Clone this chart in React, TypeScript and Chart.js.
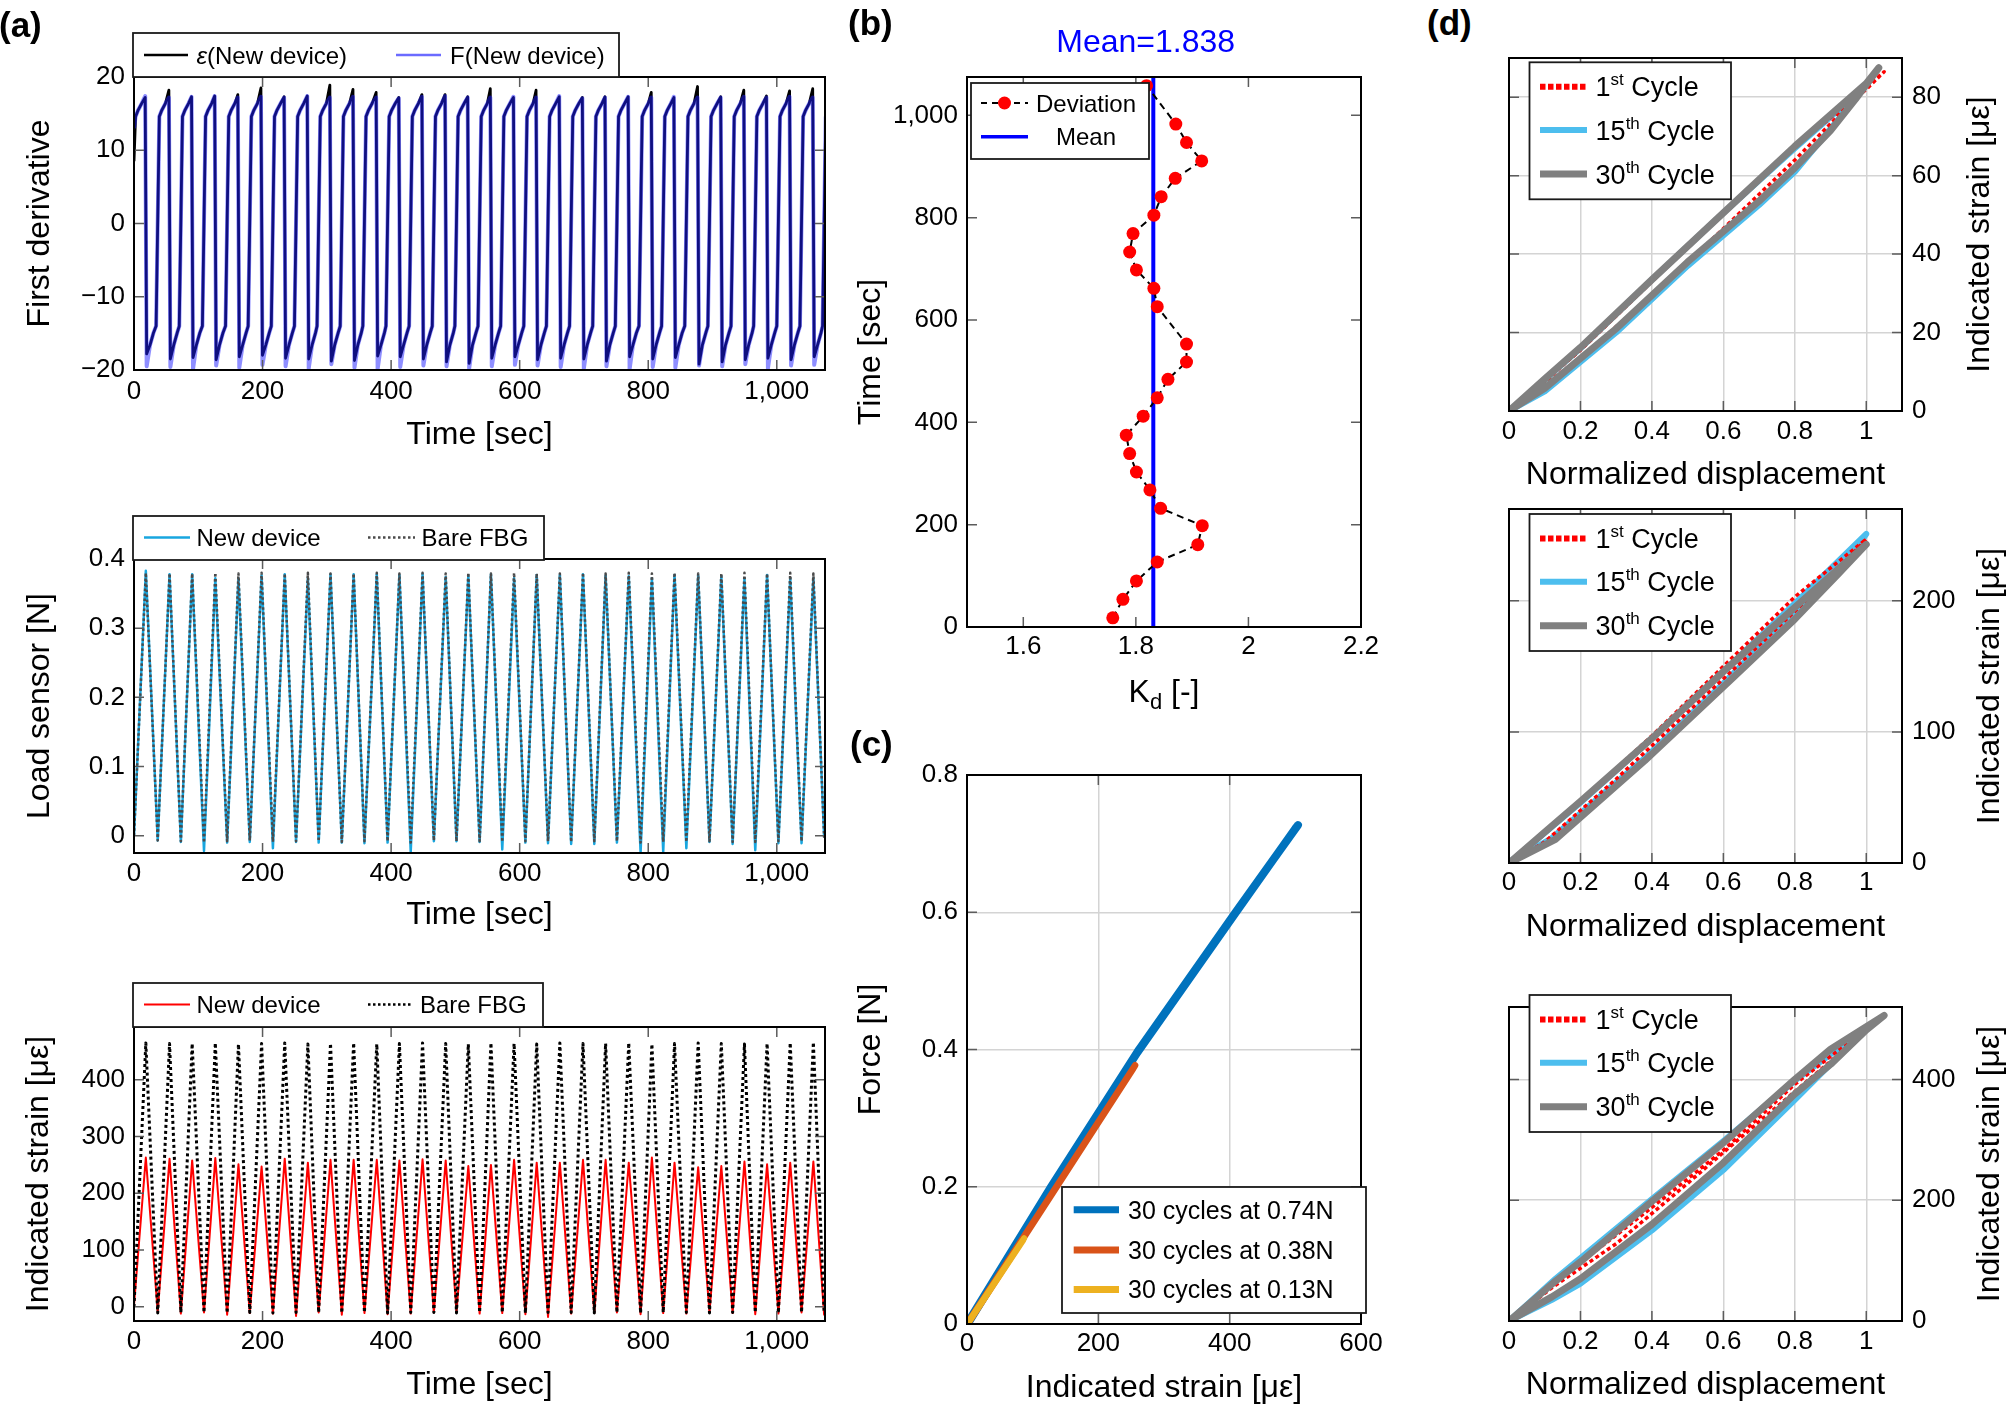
import React, { useEffect, useRef } from 'react';
import { Chart, registerables } from 'chart.js';

Chart.register(...registerables);

const FONT = '"Liberation Sans", Arial, Helvetica, sans-serif';

// ---------------- (a) time series ----------------
const timeTicks = [0, 200, 400, 600, 800, 1000];
const timeTickLabels = ['0', '200', '400', '600', '800', '1,000'];

const cyclePeakTimes = [18.4, 55.3, 90.5, 126.5, 162.5, 198.5, 234.5, 270.5, 305.7, 341.7, 377.7, 412.9, 448.9, 484.9, 520.1, 555.3, 591.3, 626.5, 662.5, 698.5, 733.7, 769.7, 805.7, 840.9, 877.7, 913.7, 949.7, 984.9, 1020.9, 1056.9];
const cycleValleyTimes = [36.9, 72.9, 108.9, 144.9, 180.1, 216.1, 252.1, 287.3, 323.3, 358.5, 394.5, 430.5, 466.5, 501.7, 537.7, 572.9, 608.9, 644.1, 680.1, 716.1, 751.3, 788.1, 823.3, 859.3, 895.3, 931.3, 966.5, 1002.5, 1038.5, 1073.7];

// first derivative: per-cycle extremes
const derivEpsPeak = [17.2, 18.2, 17.3, 17.4, 17.6, 18.5, 17.3, 17.4, 18.9, 18.3, 17.9, 17.2, 17.6, 17.6, 17.3, 18.4, 17.2, 18.2, 17.3, 17.2, 17.3, 17.3, 17.9, 17.2, 18.7, 17.3, 18.2, 17.4, 18.1, 18.4];
const derivEpsTrough = [-17.8, -18.5, -18.3, -18.6, -18.2, -18.0, -18.4, -18.5, -18.8, -18.7, -18.1, -18.2, -18.5, -18.9, -19.1, -18.4, -18.2, -18.6, -18.4, -18.5, -18.8, -18.2, -18.5, -18.3, -19.2, -18.9, -18.6, -18.4, -18.6, -18.2];
const derivForcePeak = [17.4, 17.2, 17.3, 17.4, 17.2, 17.3, 17.2, 17.4, 17.2, 17.3, 17.2, 17.1, 17.3, 17.4, 17.2, 17.2, 17.3, 17.2, 17.4, 17.1, 17.2, 17.3, 17.2, 17.3, 17.2, 17.2, 17.3, 17.2, 17.3, 17.2];
const derivForceTrough = [-19.5, -19.6, -19.9, -19.4, -19.7, -19.3, -19.5, -19.8, -19.2, -19.7, -19.9, -19.6, -19.4, -19.5, -19.8, -19.5, -19.3, -19.4, -19.6, -19.8, -19.5, -19.9, -19.6, -19.7, -19.4, -19.5, -19.2, -19.8, -19.4, -19.3];
const derivStart = [8.5, 13.0]; // eps, F at t = 0
// typical within-cycle levels
const derivRiseOffsets = [2.5, 6, 12];
const derivRiseLevels = [14.6, 15.4, 16.4];
const derivEdgeOffsets = [-1.0, 1.3];
const derivFallOffsets = [6.5, 12];
const derivFallLevels = [-16.6, -14.9];
const derivRiseFrom = [-2.5, -14.0];

const loadNewPeak = [0.383, 0.378, 0.378, 0.372, 0.372, 0.376, 0.378, 0.372, 0.378, 0.378, 0.378, 0.377, 0.378, 0.374, 0.376, 0.378, 0.372, 0.377, 0.377, 0.378, 0.376, 0.375, 0.372, 0.377, 0.376, 0.375, 0.372, 0.377, 0.372, 0.372];
const loadNewValley = [-0.007, -0.009, -0.022, -0.010, -0.009, -0.018, -0.009, -0.010, -0.010, -0.011, -0.010, -0.023, -0.008, -0.008, -0.009, -0.020, -0.010, -0.011, -0.012, -0.012, -0.010, -0.024, -0.023, -0.018, -0.009, -0.012, -0.021, -0.011, -0.011, -0.002];
const loadBarePeak = [0.380, 0.379, 0.379, 0.380, 0.379, 0.380, 0.379, 0.380, 0.379, 0.379, 0.380, 0.379, 0.380, 0.379, 0.380, 0.379, 0.380, 0.379, 0.379, 0.380, 0.379, 0.380, 0.379, 0.380, 0.379, 0.379, 0.380, 0.379, 0.380, 0.379];
const loadBareValley = [-0.007, -0.008, -0.010, -0.008, -0.007, -0.009, -0.008, -0.008, -0.009, -0.008, -0.008, -0.010, -0.007, -0.008, -0.008, -0.009, -0.008, -0.008, -0.009, -0.008, -0.008, -0.010, -0.009, -0.009, -0.008, -0.009, -0.009, -0.008, -0.008, -0.003];
const loadStart = [0, 0];

const strainNewPeak = [263, 261, 258, 262, 251, 247, 261, 254, 259, 259, 259, 258, 260, 258, 248, 250, 259, 254, 254, 259, 259, 254, 263, 254, 246, 248, 256, 251, 254, 256];
const strainNewValley = [-9, -12, -10, -14, -11, -12, -16, -10, -14, -11, -13, -12, -10, -9, -12, -11, -13, -18, -12, -11, -10, -13, -11, -12, -10, -11, -13, -12, -10, -15];
const strainBarePeak = [465, 464, 464, 465, 463, 464, 465, 463, 464, 465, 463, 464, 465, 464, 463, 465, 464, 463, 465, 464, 464, 465, 463, 464, 465, 464, 463, 464, 465, 466];
const strainBareValley = [-11, -10, -10, -11, -10, -11, -10, -10, -11, -10, -11, -10, -10, -11, -10, -10, -11, -10, -10, -11, -10, -11, -10, -10, -11, -10, -10, -11, -10, -12];
const strainStart = [3, 0];

// ---------------- (b) Kd deviation ----------------
const kdDeviation = [1.759, 1.777, 1.801, 1.838, 1.910, 1.918, 1.844, 1.825, 1.801, 1.789, 1.783, 1.813, 1.838, 1.857, 1.890, 1.890, 1.838, 1.832, 1.801, 1.789, 1.795, 1.832, 1.845, 1.870, 1.917, 1.890, 1.871, 1.819];
const kdTime = [18, 54, 90, 127, 161, 198, 232, 268, 303, 339, 375, 412, 448, 484, 518, 553, 626, 662, 698, 733, 769, 805, 841, 877, 911, 947, 983, 1058];
const kdMeanLine = 1.831;
const kdMeanLabel = '1.838';

// ---------------- (c) force vs strain ----------------
const cBlueStrain = [0, 128, 215, 262, 409, 504, 500, 406, 259, 212, 126, 1];
const cBlueForce = [0, 0.2, 0.33, 0.4, 0.6, 0.727, 0.722, 0.595, 0.395, 0.325, 0.195, 0];
const cOrangeStrain = [0, 136, 256, 253, 134, 1];
const cOrangeForce = [0, 0.2, 0.377, 0.372, 0.196, 0];
const cYellowStrain = [0, 87, 85, 1];
const cYellowForce = [0, 0.125, 0.121, 0];

// ---------------- (d) hysteresis loops ----------------
const d1Disp30 = [0, 0.1, 0.2, 0.4, 0.6, 0.8, 1.0, 1.035, 0.97, 0.9, 0.8, 0.7, 0.5, 0.3, 0.1, 0];
const d1Strain30 = [0, 8.2, 16.2, 33.5, 50.5, 67.5, 83.5, 87.5, 79.5, 71.5, 62, 53.5, 38, 21, 5.8, 0];
const d1Disp15 = [0, 0.2, 0.4, 0.6, 0.8, 1.0, 1.02, 0.95, 0.8, 0.7, 0.5, 0.3, 0.1, 0];
const d1Strain15 = [0, 16, 33.5, 50.5, 67, 83, 85.5, 77.5, 61, 52.5, 37, 20, 5, 0];
const d1Disp1 = [0, 0.2, 0.4, 0.6, 0.8, 1.0, 1.05, 1.0, 0.8, 0.6, 0.4, 0.2, 0];
const d1Strain1 = [0, 15.5, 33, 50.5, 67.5, 82, 86.5, 82.5, 64, 46.5, 29.5, 13.5, 0];

const d2Disp30 = [0, 0.1, 0.2, 0.4, 0.6, 0.8, 1.0, 0.92, 0.8, 0.63, 0.38, 0.13, 0];
const d2Strain30 = [0, 23.5, 47, 95, 146, 195, 243, 220, 186, 142, 78, 18, 0];
const d2Disp15 = [0, 0.2, 0.4, 0.6, 0.8, 1.0, 0.95, 0.85, 0.6, 0.38, 0.12, 0];
const d2Strain15 = [0, 46, 95, 146, 198, 251, 232, 205, 137, 80, 19, 0];
const d2Disp1 = [0, 0.2, 0.4, 0.6, 0.8, 1.0, 0.9, 0.7, 0.5, 0.3, 0.1, 0];
const d2Strain1 = [0, 47, 97, 150, 203, 247, 218, 166, 115, 64, 16, 0];

const d3Disp30 = [0, 0.13, 0.2, 0.4, 0.6, 0.8, 0.9, 1.05, 1.0, 0.9, 0.8, 0.6, 0.4, 0.2, 0.12, 0];
const d3Strain30 = [0, 66, 98, 198, 295, 400, 450, 506, 482, 425, 376, 262, 160, 70, 40, 0];
const d3Disp15 = [0, 0.13, 0.4, 0.6, 0.8, 1.0, 0.95, 0.8, 0.6, 0.4, 0.2, 0.12, 0];
const d3Strain15 = [0, 70, 202, 298, 398, 485, 455, 366, 250, 150, 62, 35, 0];
const d3Disp1 = [0, 0.12, 0.4, 0.6, 0.8, 1.03, 0.93, 0.7, 0.5, 0.3, 0.12, 0];
const d3Strain1 = [0, 60, 188, 283, 392, 498, 445, 330, 228, 128, 55, 0];

const dispTicks = [0, 0.2, 0.4, 0.6, 0.8, 1];
const dispTickLabels = ['0', '0.2', '0.4', '0.6', '0.8', '1'];

// ---------------- helpers ----------------
const zipXY = (xs: number[], ys: number[]) => xs.map((x, i) => ({ x, y: ys[i] }));

function triangleSeries(start: number, peaks: number[], valleys: number[]) {
  const pts = [{ x: 0, y: start }];
  cyclePeakTimes.forEach((tp, i) => {
    pts.push({ x: tp, y: peaks[i] });
    pts.push({ x: cycleValleyTimes[i], y: valleys[i] });
  });
  return pts;
}

function derivativeSeries(start: number, peaks: number[], troughs: number[]) {
  const pts: { x: number; y: number }[] = [{ x: 0, y: start }];
  let rise = 0;
  cyclePeakTimes.forEach((fall, i) => {
    const next = cycleValleyTimes[i];
    derivRiseOffsets.forEach((dt, k) => pts.push({ x: rise + dt, y: derivRiseLevels[k] }));
    pts.push({ x: fall + derivEdgeOffsets[0], y: peaks[i] });
    pts.push({ x: fall + derivEdgeOffsets[1], y: troughs[i] });
    derivFallOffsets.forEach((dt, k) => pts.push({ x: fall + dt, y: derivFallLevels[k] }));
    pts.push({ x: next + derivRiseFrom[0], y: derivRiseFrom[1] });
    rise = next;
  });
  pts.push({ x: rise + derivRiseOffsets[0], y: derivRiseLevels[0] });
  return pts;
}

type Seg = { t: string; size?: number; dy?: number; italic?: boolean };
type TextItem = { x: number; y: number; segs: Seg[]; size: number; rot?: number; color?: string; align?: 'left' | 'center' };

function drawSegs(ctx: CanvasRenderingContext2D, it: TextItem, ox: number, oy: number) {
  ctx.save();
  ctx.translate(it.x - ox, it.y - oy);
  if (it.rot) ctx.rotate(it.rot);
  ctx.fillStyle = it.color || '#000';
  ctx.textBaseline = 'alphabetic';
  ctx.textAlign = 'left';
  const fontOf = (s: Seg) => `${s.italic ? 'italic ' : ''}${s.size ?? it.size}px ${FONT}`;
  let total = 0;
  const widths = it.segs.map((s) => {
    ctx.font = fontOf(s);
    const w = ctx.measureText(s.t).width;
    total += w;
    return w;
  });
  let x = it.align === 'left' ? 0 : -total / 2;
  const base = 0.36 * it.size;
  it.segs.forEach((s, i) => {
    ctx.font = fontOf(s);
    ctx.fillText(s.t, x, base + (s.dy || 0));
    x += widths[i];
  });
  ctx.restore();
}

type LegendItem = { x1: number; x2: number; y: number; color: string; width: number; dash?: number[]; textX: number; segs: Seg[]; marker?: { x: number; r: number; color: string } };
type LegendSpec = { box: { x: number; y: number; w: number; h: number }; size: number; items: LegendItem[] };

const framePlugin = () => ({
  id: 'frameTicks',
  afterDatasetsDraw(chart: any) {
    const { ctx, chartArea: a, scales } = chart;
    const L = 10;
    ctx.save();
    ctx.strokeStyle = '#5c5c5c';
    ctx.lineWidth = 1.5;
    ctx.beginPath();
    for (const t of scales.x.ticks) {
      const px = scales.x.getPixelForValue(t.value);
      if (px <= a.left + 1 || px >= a.right - 1) continue;
      ctx.moveTo(px, a.bottom);
      ctx.lineTo(px, a.bottom - L);
      ctx.moveTo(px, a.top);
      ctx.lineTo(px, a.top + L);
    }
    for (const t of scales.y.ticks) {
      const py = scales.y.getPixelForValue(t.value);
      if (py <= a.top + 1 || py >= a.bottom - 1) continue;
      ctx.moveTo(a.left, py);
      ctx.lineTo(a.left + L, py);
      ctx.moveTo(a.right, py);
      ctx.lineTo(a.right - L, py);
    }
    ctx.stroke();
    ctx.strokeStyle = '#000';
    ctx.lineWidth = 2;
    ctx.strokeRect(a.left, a.top, a.right - a.left, a.bottom - a.top);
    ctx.restore();
  },
});

const legendPlugin = (spec: LegendSpec | undefined, ox: number, oy: number) => ({
  id: 'boxLegend',
  afterDraw(chart: any) {
    if (!spec) return;
    const ctx: CanvasRenderingContext2D = chart.ctx;
    const b = spec.box;
    ctx.save();
    ctx.fillStyle = '#fff';
    ctx.fillRect(b.x - ox, b.y - oy, b.w, b.h);
    ctx.strokeStyle = '#1a1a1a';
    ctx.lineWidth = 1.8;
    ctx.strokeRect(b.x - ox, b.y - oy, b.w, b.h);
    for (const it of spec.items) {
      ctx.save();
      ctx.strokeStyle = it.color;
      ctx.lineWidth = it.width;
      ctx.lineCap = 'butt';
      ctx.setLineDash(it.dash || []);
      ctx.beginPath();
      ctx.moveTo(it.x1 - ox, it.y - oy);
      ctx.lineTo(it.x2 - ox, it.y - oy);
      ctx.stroke();
      ctx.restore();
      if (it.marker) {
        ctx.fillStyle = it.marker.color;
        ctx.beginPath();
        ctx.arc(it.marker.x - ox, it.y - oy, it.marker.r, 0, Math.PI * 2);
        ctx.fill();
      }
      drawSegs(ctx, { x: it.textX, y: it.y, segs: it.segs, size: spec.size, align: 'left' }, ox, oy);
    }
    ctx.restore();
  },
});

const textPlugin = (items: TextItem[] | undefined, ox: number, oy: number) => ({
  id: 'freeText',
  afterDraw(chart: any) {
    if (!items) return;
    for (const it of items) drawSegs(chart.ctx, it, ox, oy);
  },
});

type AxisSpec = { min: number; max: number; ticks: number[]; labels: string[]; pad: number; title?: string; titlePad?: number };
type PanelSpec = {
  canvas: { x: number; y: number; w: number; h: number };
  plot: { L: number; T: number; R: number; B: number };
  yRight?: boolean;
  grid?: boolean;
  x: AxisSpec;
  y: AxisSpec;
  datasets: any[];
  legend?: LegendSpec;
  texts?: TextItem[];
};

function buildChart(canvas: HTMLCanvasElement, s: PanelSpec) {
  const c = s.canvas;
  const p = s.plot;
  const yRight = !!s.yRight;
  const padding = { top: p.T - c.y, left: yRight ? p.L - c.x : 0, right: yRight ? 0 : c.x + c.w - p.R, bottom: 0 };
  const yWidth = yRight ? c.x + c.w - p.R : p.L - c.x;
  const xHeight = c.y + c.h - p.B;
  const tickFont = { family: FONT, size: 26, lineHeight: 1 };
  const titleFont = { family: FONT, size: 32, lineHeight: 1 };
  const grid = s.grid
    ? { display: true, color: '#d4d4d4', lineWidth: 1.5, drawTicks: false, drawOnChartArea: true }
    : { display: false, drawTicks: false };
  const axis = (a: AxisSpec, horizontal: boolean) => ({
    type: 'linear',
    bounds: 'data',
    min: a.min,
    max: a.max,
    position: horizontal ? 'bottom' : yRight ? 'right' : 'left',
    afterBuildTicks: (sc: any) => {
      sc.ticks = a.ticks.map((v) => ({ value: v }));
    },
    afterFit: (sc: any) => {
      if (horizontal) sc.height = xHeight;
      else sc.width = yWidth;
    },
    ticks: {
      font: tickFont,
      color: '#000',
      padding: a.pad,
      autoSkip: false,
      maxRotation: 0,
      minRotation: 0,
      callback: (_v: any, i: number) => a.labels[i],
    },
    grid,
    border: { display: false },
    title: a.title
      ? {
          display: true,
          text: a.title,
          font: titleFont,
          color: '#000',
          padding: horizontal ? { top: 0, bottom: a.titlePad || 0 } : { top: a.titlePad || 0, bottom: 0 },
        }
      : { display: false },
  });
  return new Chart(canvas, {
    type: 'line',
    data: { datasets: s.datasets },
    options: {
      responsive: false,
      maintainAspectRatio: false,
      animation: false,
      devicePixelRatio: 1,
      events: [],
      layout: { padding },
      plugins: { legend: { display: false }, tooltip: { enabled: false }, title: { display: false } },
      elements: { point: { radius: 0 }, line: { tension: 0 } },
      scales: { x: axis(s.x, true), y: axis(s.y, false) },
    } as any,
    plugins: [framePlugin(), legendPlugin(s.legend, c.x, c.y), textPlugin(s.texts, c.x, c.y)] as any,
  });
}

// ---------------- styles ----------------
const F_BLUE = 'rgba(30,30,255,0.5)';
const CYAN = '#18a6df';
const RED = '#ff0000';
const C_BLUE = '#0072BD';
const C_ORANGE = '#D95319';
const C_YELLOW = '#EDB120';
const D_RED = '#ff0000';
const D_CYAN = '#4DBEEE';
const D_GRAY = '#808080';

const line = (data: any[], color: string, width: number, dash?: number[]) => ({
  data,
  borderColor: color,
  backgroundColor: color,
  borderWidth: width,
  borderDash: dash || [],
  borderCapStyle: 'butt',
  borderJoinStyle: 'round',
  pointRadius: 0,
  fill: false,
  tension: 0,
});

const timeAxis = (pad: number, titlePad: number): AxisSpec => ({ min: 0, max: 1075, ticks: timeTicks, labels: timeTickLabels, pad, title: 'Time [sec]', titlePad });

const cycleLegend = (top: number): LegendSpec => ({
  box: { x: 1529.5, y: top, w: 201.5, h: 137 },
  size: 27,
  items: [
    { x1: 1540, x2: 1587, y: top + 24.4, color: D_RED, width: 6, dash: [5.5, 2.5], textX: 1595.6, segs: [{ t: '1' }, { t: 'st', size: 17, dy: -11 }, { t: ' Cycle' }] },
    { x1: 1540, x2: 1587, y: top + 67.7, color: D_CYAN, width: 6, textX: 1595.6, segs: [{ t: '15' }, { t: 'th', size: 17, dy: -11 }, { t: ' Cycle' }] },
    { x1: 1540, x2: 1587, y: top + 111.7, color: D_GRAY, width: 7, textX: 1595.6, segs: [{ t: '30' }, { t: 'th', size: 17, dy: -11 }, { t: ' Cycle' }] },
  ],
});

// drawing order: 30th (gray) on top, then 1st (red dotted), then 15th (cyan)
const cycleSets = (dx1: number[], dy1: number[], dx15: number[], dy15: number[], dx30: number[], dy30: number[]) => [
  line(zipXY(dx30, dy30), D_GRAY, 7),
  line(zipXY(dx1, dy1), D_RED, 3.5, [4, 3]),
  line(zipXY(dx15, dy15), D_CYAN, 6),
];

const rightTitle = (x: number, y: number): TextItem => ({ x, y, rot: -Math.PI / 2, size: 32, segs: [{ t: 'Indicated strain [με]' }] });

const PANELS: PanelSpec[] = [
  // (a) first derivative
  {
    canvas: { x: 0, y: 20, w: 870, h: 440 },
    plot: { L: 134, T: 77, R: 825, B: 370 },
    x: timeAxis(9, 9),
    y: { min: -20, max: 20, ticks: [-20, -10, 0, 10, 20], labels: ['\u221220', '\u221210', '0', '10', '20'], pad: 9, title: 'First derivative', titlePad: 24 },
    datasets: [
      line(derivativeSeries(derivStart[1], derivForcePeak, derivForceTrough), F_BLUE, 4),
      line(derivativeSeries(derivStart[0], derivEpsPeak, derivEpsTrough), '#000', 2.8),
    ],
    legend: {
      box: { x: 133, y: 33, w: 486, h: 44 },
      size: 24,
      items: [
        { x1: 144, x2: 188, y: 55, color: '#000', width: 2.5, textX: 196.5, segs: [{ t: 'ε', italic: true }, { t: '(New device)' }] },
        { x1: 396, x2: 441, y: 55, color: '#6b6bff', width: 2.5, textX: 450, segs: [{ t: 'F(New device)' }] },
      ],
    },
  },
  // (a) load sensor
  {
    canvas: { x: 0, y: 490, w: 870, h: 455 },
    plot: { L: 134, T: 559, R: 825, B: 853 },
    x: timeAxis(8, 14),
    y: { min: -0.025, max: 0.4, ticks: [0, 0.1, 0.2, 0.3, 0.4], labels: ['0', '0.1', '0.2', '0.3', '0.4'], pad: 9, title: 'Load sensor [N]', titlePad: 24 },
    datasets: [
      line(triangleSeries(loadStart[1], loadBarePeak, loadBareValley), '#4a4a4a', 2.5, [2.5, 2.5]),
      line(triangleSeries(loadStart[0], loadNewPeak, loadNewValley), CYAN, 2.5),
    ],
    legend: {
      box: { x: 133, y: 516, w: 411, h: 44 },
      size: 24,
      items: [
        { x1: 144, x2: 190, y: 537.5, color: CYAN, width: 2.5, textX: 196.5, segs: [{ t: 'New device' }] },
        { x1: 368, x2: 415, y: 537.5, color: '#4a4a4a', width: 2.5, dash: [2.5, 2.5], textX: 421.6, segs: [{ t: 'Bare FBG' }] },
      ],
    },
  },
  // (a) indicated strain
  {
    canvas: { x: 0, y: 960, w: 870, h: 447 },
    plot: { L: 134, T: 1027, R: 825, B: 1321 },
    x: timeAxis(8, 6),
    y: { min: -25, max: 493, ticks: [0, 100, 200, 300, 400], labels: ['0', '100', '200', '300', '400'], pad: 9, title: 'Indicated strain [με]', titlePad: 23 },
    datasets: [
      line(triangleSeries(strainStart[1], strainBarePeak, strainBareValley), '#000', 3, [3, 3]),
      line(triangleSeries(strainStart[0], strainNewPeak, strainNewValley), RED, 2),
    ],
    legend: {
      box: { x: 133, y: 983, w: 410, h: 44 },
      size: 24,
      items: [
        { x1: 144, x2: 190, y: 1004.5, color: RED, width: 2, textX: 196.5, segs: [{ t: 'New device' }] },
        { x1: 368, x2: 412, y: 1004.5, color: '#000', width: 2.5, dash: [2.5, 2.5], textX: 420, segs: [{ t: 'Bare FBG' }] },
      ],
    },
  },
  // (b)
  {
    canvas: { x: 840, y: 0, w: 560, h: 720 },
    plot: { L: 967, T: 77, R: 1361, B: 627 },
    x: { min: 1.5, max: 2.2, ticks: [1.6, 1.8, 2, 2.2], labels: ['1.6', '1.8', '2', '2.2'], pad: 7 },
    y: { min: 0, max: 1075, ticks: timeTicks, labels: timeTickLabels, pad: 9, title: 'Time [sec]', titlePad: 14.7 },
    datasets: [
      {
        ...line(zipXY(kdDeviation, kdTime), '#000', 2, [7, 5]),
        pointRadius: 6.5,
        pointBackgroundColor: '#ff0000',
        pointBorderColor: '#ff0000',
        pointBorderWidth: 0,
      },
      line([{ x: kdMeanLine, y: 0 }, { x: kdMeanLine, y: 1075 }], '#0000ff', 4),
    ],
    legend: {
      box: { x: 971, y: 83, w: 178, h: 76 },
      size: 24,
      items: [
        { x1: 981, x2: 1028, y: 103, color: '#000', width: 2, dash: [6, 5], textX: 1036, segs: [{ t: 'Deviation' }], marker: { x: 1004.5, r: 6.5, color: '#ff0000' } },
        { x1: 981, x2: 1028, y: 136.7, color: '#0000ff', width: 3.5, textX: 1056, segs: [{ t: 'Mean' }] },
      ],
    },
    texts: [
      { x: 1145.7, y: 40.4, size: 32, color: '#0000ff', segs: [{ t: 'Mean=' + kdMeanLabel }] },
      { x: 1164, y: 690, size: 32, segs: [{ t: 'K' }, { t: 'd', size: 22, dy: 7 }, { t: ' [-]' }] },
    ],
  },
  // (c)
  {
    canvas: { x: 840, y: 730, w: 560, h: 677 },
    plot: { L: 967, T: 775, R: 1361, B: 1324 },
    grid: true,
    x: { min: 0, max: 600, ticks: [0, 200, 400, 600], labels: ['0', '200', '400', '600'], pad: 7, title: 'Indicated strain [με]', titlePad: 3 },
    y: { min: 0, max: 0.8, ticks: [0, 0.2, 0.4, 0.6, 0.8], labels: ['0', '0.2', '0.4', '0.6', '0.8'], pad: 9, title: 'Force [N]', titlePad: 14.7 },
    datasets: [
      line(zipXY(cYellowStrain, cYellowForce), C_YELLOW, 6),
      line(zipXY(cOrangeStrain, cOrangeForce), C_ORANGE, 6.5),
      line(zipXY(cBlueStrain, cBlueForce), C_BLUE, 8),
    ],
    legend: {
      box: { x: 1062, y: 1187, w: 304, h: 126 },
      size: 25,
      items: [
        { x1: 1073.7, x2: 1119, y: 1209.7, color: C_BLUE, width: 7, textX: 1128, segs: [{ t: '30 cycles at 0.74N' }] },
        { x1: 1073.7, x2: 1119, y: 1250, color: C_ORANGE, width: 7, textX: 1128, segs: [{ t: '30 cycles at 0.38N' }] },
        { x1: 1073.7, x2: 1119, y: 1289.4, color: C_YELLOW, width: 7, textX: 1128, segs: [{ t: '30 cycles at 0.13N' }] },
      ],
    },
  },
  // (d) top
  {
    canvas: { x: 1490, y: 0, w: 516, h: 500 },
    plot: { L: 1509, T: 58, R: 1902, B: 411 },
    yRight: true,
    grid: true,
    x: { min: 0, max: 1.1, ticks: dispTicks, labels: dispTickLabels, pad: 8, title: 'Normalized displacement', titlePad: 9 },
    y: { min: 0, max: 90, ticks: [0, 20, 40, 60, 80], labels: ['0', '20', '40', '60', '80'], pad: 10 },
    datasets: cycleSets(d1Disp1, d1Strain1, d1Disp15, d1Strain15, d1Disp30, d1Strain30),
    legend: cycleLegend(62.3),
    texts: [rightTitle(1977, 234.5)],
  },
  // (d) middle
  {
    canvas: { x: 1490, y: 470, w: 516, h: 490 },
    plot: { L: 1509, T: 509, R: 1902, B: 863 },
    yRight: true,
    grid: true,
    x: { min: 0, max: 1.1, ticks: dispTicks, labels: dispTickLabels, pad: 7, title: 'Normalized displacement', titlePad: 17 },
    y: { min: 0, max: 270, ticks: [0, 100, 200], labels: ['0', '100', '200'], pad: 10 },
    datasets: cycleSets(d2Disp1, d2Strain1, d2Disp15, d2Strain15, d2Disp30, d2Strain30),
    legend: cycleLegend(514),
    texts: [rightTitle(1987, 686)],
  },
  // (d) bottom
  {
    canvas: { x: 1490, y: 960, w: 516, h: 447 },
    plot: { L: 1509, T: 1007, R: 1902, B: 1321 },
    yRight: true,
    grid: true,
    x: { min: 0, max: 1.1, ticks: dispTicks, labels: dispTickLabels, pad: 8, title: 'Normalized displacement', titlePad: 6 },
    y: { min: 0, max: 520, ticks: [0, 200, 400], labels: ['0', '200', '400'], pad: 10 },
    datasets: cycleSets(d3Disp1, d3Strain1, d3Disp15, d3Strain15, d3Disp30, d3Strain30),
    legend: cycleLegend(995),
    texts: [rightTitle(1987, 1164)],
  },
];

const PANEL_TAGS = [
  { t: '(a)', x: -1, y: 7 },
  { t: '(b)', x: 848, y: 4.5 },
  { t: '(c)', x: 850, y: 726 },
  { t: '(d)', x: 1427, y: 4.5 },
];

function Panel({ spec }: { spec: PanelSpec }) {
  const ref = useRef<HTMLCanvasElement>(null);
  useEffect(() => {
    const chart = buildChart(ref.current as HTMLCanvasElement, spec);
    return () => chart.destroy();
  }, [spec]);
  const c = spec.canvas;
  return (
    <canvas
      ref={ref}
      width={c.w}
      height={c.h}
      style={{ position: 'absolute', left: c.x, top: c.y, width: c.w, height: c.h }}
    />
  );
}

export default function App() {
  return (
    <div
      style={{
        position: 'absolute',
        left: 0,
        top: 0,
        width: 2006,
        height: 1407,
        overflow: 'hidden',
        background: '#fff',
      }}
    >
      {PANELS.map((s, i) => (
        <Panel key={i} spec={s} />
      ))}
      {PANEL_TAGS.map((p) => (
        <div
          key={p.t}
          style={{
            position: 'absolute',
            left: p.x,
            top: p.y,
            font: `bold 35px ${FONT}`,
            lineHeight: '35px',
            whiteSpace: 'nowrap',
            color: '#000',
          }}
        >
          {p.t}
        </div>
      ))}
    </div>
  );
}
